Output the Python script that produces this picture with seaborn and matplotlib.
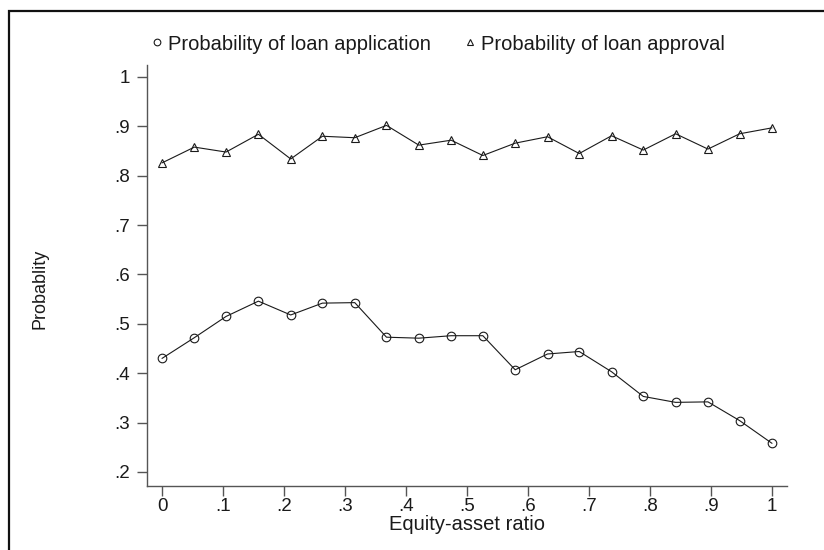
import matplotlib
matplotlib.use("Agg")
import matplotlib.pyplot as plt
import seaborn as sns
import pandas as pd
from matplotlib.lines import Line2D
from matplotlib.patches import Rectangle

# ---- data ----
equity_asset_ratio = [0.000, 0.053, 0.105, 0.158, 0.211, 0.263, 0.316, 0.368, 0.421, 0.474,
                      0.526, 0.579, 0.632, 0.684, 0.737, 0.789, 0.842, 0.895, 0.947, 1.000]
prob_application = [0.430, 0.472, 0.515, 0.546, 0.518, 0.542, 0.543, 0.473, 0.471, 0.476,
                    0.476, 0.407, 0.439, 0.444, 0.403, 0.353, 0.341, 0.342, 0.304, 0.258]
prob_approval = [0.826, 0.858, 0.848, 0.884, 0.834, 0.880, 0.877, 0.902, 0.862, 0.872,
                 0.841, 0.866, 0.879, 0.845, 0.881, 0.852, 0.885, 0.854, 0.885, 0.897]
series_labels = ["Probability of loan application", "Probability of loan approval"]
x_ticks = [0, .1, .2, .3, .4, .5, .6, .7, .8, .9, 1]
x_ticklabels = ["0", ".1", ".2", ".3", ".4", ".5", ".6", ".7", ".8", ".9", "1"]
y_ticks = [.2, .3, .4, .5, .6, .7, .8, .9, 1]
y_ticklabels = [".2", ".3", ".4", ".5", ".6", ".7", ".8", ".9", "1"]

df = pd.DataFrame({
    "ratio": equity_asset_ratio * 2,
    "prob": prob_application + prob_approval,
    "series": [series_labels[0]] * len(prob_application) + [series_labels[1]] * len(prob_approval),
})

sns.set_theme(style="white")
plt.rcParams["font.family"] = ["Liberation Sans", "DejaVu Sans"]

W, H = 824, 550
FS_TICK = 13.5
FS_TEXT = 14.5
INK = "#1a1a1a"
fig = plt.figure(figsize=(W / 100, H / 100), dpi=100)
fig.patch.set_facecolor("white")

# outer frame (only left and top edges visible in the reference)
fig.add_artist(Rectangle((9 / W, -0.1), 1.2, (H - 11) / H + 0.1, transform=fig.transFigure,
                         fill=False, edgecolor="#111111", linewidth=1.6))

ax = fig.add_axes([147 / W, (H - 486) / H, (787 - 147) / W, (486 - 65) / H])
ax.set_facecolor("white")

sns.lineplot(data=df, x="ratio", y="prob", style="series", markers=["o", "^"], dashes=False,
             color=INK, linewidth=0.8, markersize=6.2, markerfacecolor="none",
             markeredgecolor=INK, markeredgewidth=0.8, legend=False, ax=ax)

ax.set_xlim(-0.0246, 1.0246)
ax.set_ylim(0.1716, 1.0243)
ax.set_xticks(x_ticks)
ax.set_xticklabels(x_ticklabels)
ax.set_yticks(y_ticks)
ax.set_yticklabels(y_ticklabels, rotation=0)

for s in ["top", "right"]:
    ax.spines[s].set_visible(False)
for s in ["left", "bottom"]:
    ax.spines[s].set_color("#555555")
    ax.spines[s].set_linewidth(1.0)

ax.tick_params(axis="both", which="major", direction="out", length=7, width=1.0,
               color="#555555", labelcolor=INK, labelsize=FS_TICK)
ax.tick_params(axis="x", pad=1.5, bottom=True)
ax.tick_params(axis="y", pad=5, left=True)

ax.set_xlabel("Equity-asset ratio", fontsize=FS_TEXT, color=INK)
ax.set_ylabel("Probablity", fontsize=13, color=INK)
ax.xaxis.set_label_coords(0.5, (486 - 525) / (486 - 65))
ax.yaxis.set_label_coords((40 - 147) / (787 - 147), (486 - 289) / (486 - 65))
ax.xaxis.label.set_va("center")
ax.yaxis.label.set_va("center")

handles = [
    Line2D([], [], linestyle="none", marker="o", markersize=4.8, markerfacecolor="none",
           markeredgecolor=INK, markeredgewidth=0.8),
    Line2D([], [], linestyle="none", marker="^", markersize=4.8, markerfacecolor="none",
           markeredgecolor=INK, markeredgewidth=0.8),
]
fig.legend(handles, series_labels, loc="center left", bbox_to_anchor=(151 / W, 1 - 44 / H),
           ncol=2, frameon=False, fontsize=FS_TEXT, handlelength=0.6, handletextpad=0.25,
           columnspacing=1.64, borderpad=0, borderaxespad=0, labelcolor=INK)

fig.savefig("out.png", dpi=100, facecolor="white")
